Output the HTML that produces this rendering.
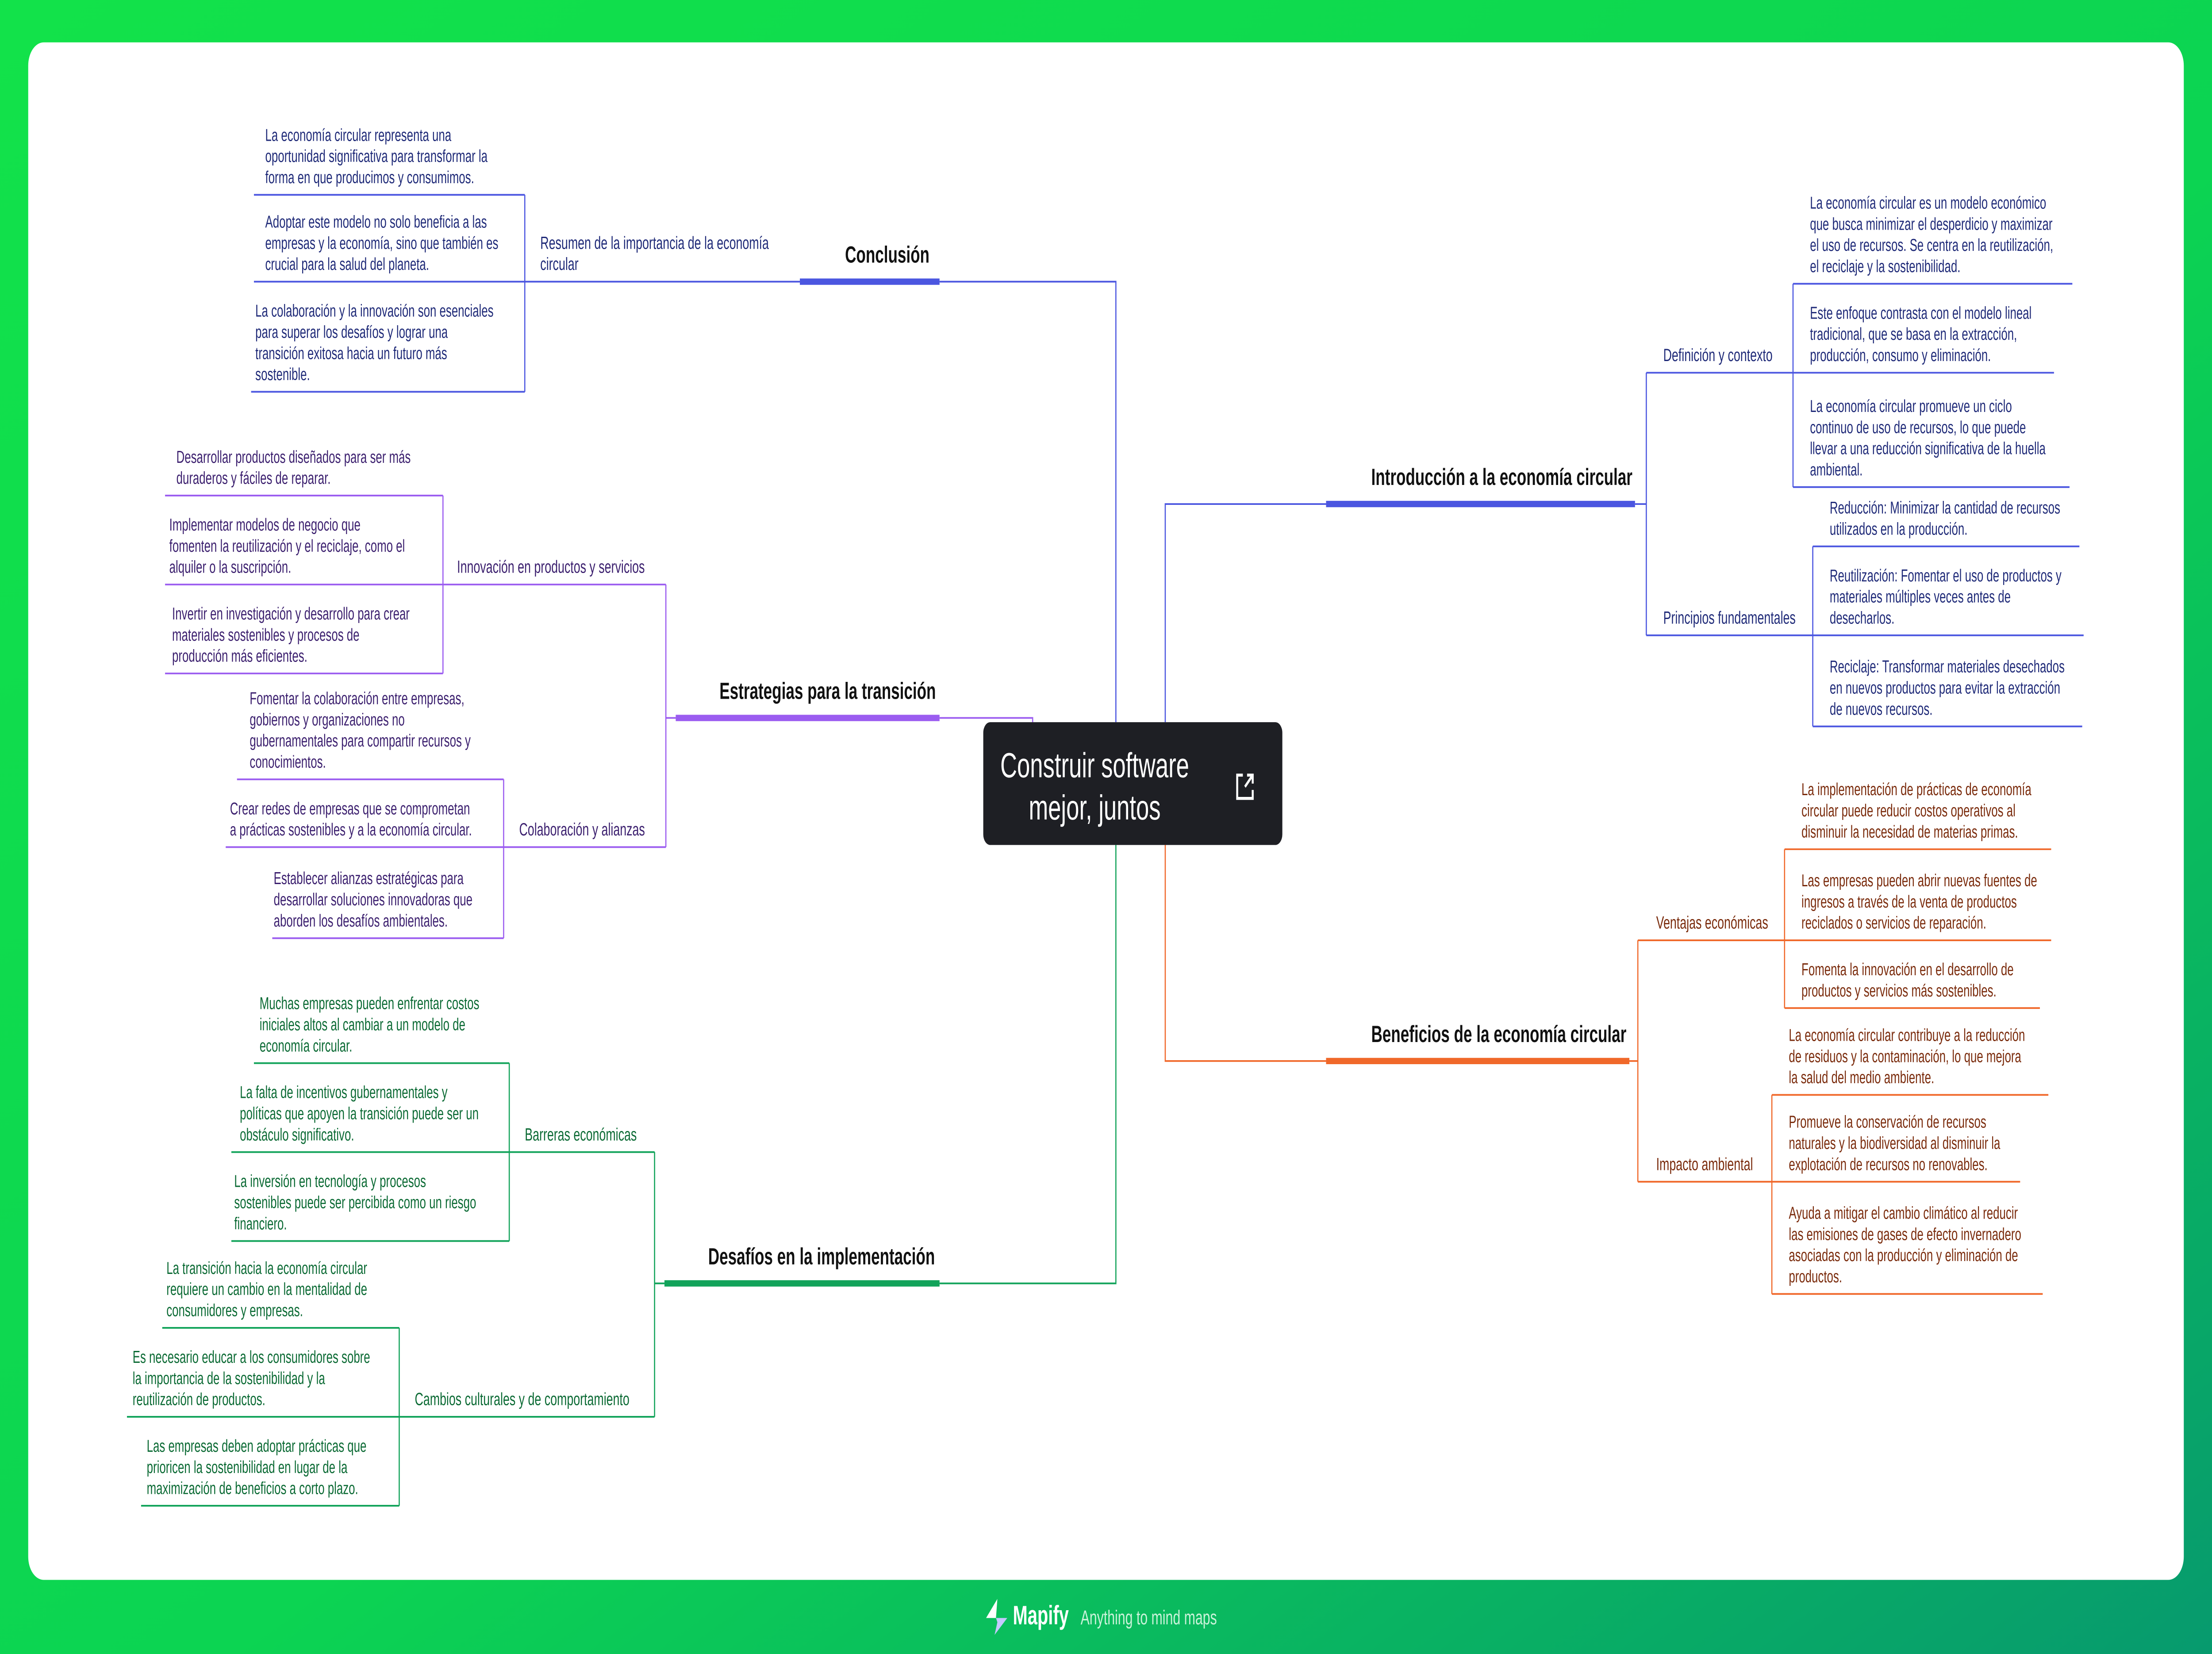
<!DOCTYPE html>
<html><head><meta charset="utf-8"><style>
html,body{margin:0;padding:0;width:100%;height:100%;overflow:hidden;background:#0cd452}
svg.main{position:absolute;left:0;top:0;width:100vw;height:100vh;display:block}
</style></head><body>
<svg class="main" viewBox="0 0 1568 781" preserveAspectRatio="none" xmlns="http://www.w3.org/2000/svg">
<defs><linearGradient id="bg" x1="0" y1="0" x2="1" y2="1"><stop offset="0" stop-color="#12e24a"/><stop offset="0.55" stop-color="#0cd452"/><stop offset="1" stop-color="#079a6e"/></linearGradient></defs>
<style>
text{font-family:"Liberation Sans",sans-serif;font-size:8.1px}
.s{font-size:8.4px}
.h{font-size:11px;font-weight:bold;fill:#111}
.b{fill:#1f2a78}.p{fill:#3b1f6e}.g{fill:#0b6a34}.o{fill:#7a2b0c}
</style>
<rect x="0" y="0" width="1568" height="781" fill="url(#bg)"/>
<rect x="20" y="20" width="1528" height="726" rx="11" fill="#fff"/>
<g fill="none">
<g stroke="#4b56e0" stroke-width="0.8">
<path d="M666 133H791V341"/>
<path d="M372 133H567M372 92V185M180 92H372M180 133H372M178 185H372"/>
<path d="M826 341V238H940"/>
<path d="M1159 238H1167M1167 176V300M1167 176H1271M1167 300H1285"/>
<path d="M1271 134V230M1271 134H1469M1271 176H1456M1271 230H1467"/>
<path d="M1285 258V343M1285 258H1474M1285 300H1477M1285 343H1476"/>
</g>
<g stroke="#9b5cf0" stroke-width="0.8">
<path d="M666 339H732V341"/>
<path d="M472 339H479M472 276V400M314 276H472M357 400H472"/>
<path d="M314 234V318M117 234H314M117 276H314M117 318H314"/>
<path d="M357 368V443M168 368H357M160 400H357M193 443H357"/>
</g>
<g stroke="#12a35a" stroke-width="0.8">
<path d="M666 606H791V399"/>
<path d="M464 606H471M464 544V669M361 544H464M283 669H464"/>
<path d="M361 502V586M180 502H361M164 544H361M164 586H361"/>
<path d="M283 627V711M115 627H283M90 669H283M100 711H283"/>
</g>
<g stroke="#f0682a" stroke-width="0.8">
<path d="M826 399V501H940"/>
<path d="M1155 501H1161M1161 444V558M1161 444H1265M1161 558H1256"/>
<path d="M1265 401V476M1265 401H1454M1265 444H1454M1265 476H1446"/>
<path d="M1256 517V611M1256 517H1452M1256 558H1432M1256 611H1448"/>
</g>
<g stroke-width="3">
<path d="M567 133H666" stroke="#4b56e0"/>
<path d="M940 238H1159" stroke="#4b56e0"/>
<path d="M479 339H666" stroke="#9b5cf0"/>
<path d="M471 606H666" stroke="#12a35a"/>
<path d="M940 501H1155" stroke="#f0682a"/>
</g>
</g>

<rect x="697" y="341" width="212" height="58" rx="5" fill="#1e1f24"/>
<text x="776" y="367" text-anchor="middle" fill="#fff" style="font-size:16.5px">Construir software</text>
<text x="776" y="387" text-anchor="middle" fill="#fff" style="font-size:16.5px">mejor, juntos</text>
<path d="M881 366H877V377H888V373M884 366H888V370M888 366L882.5 371.5" fill="none" stroke="#fff" stroke-width="1.4"/>

<text class="h" x="599" y="124">Conclusión</text>
<text class="h" x="510" y="330">Estrategias para la transición</text>
<text class="h" x="502" y="597">Desafíos en la implementación</text>
<text class="h" x="972" y="229">Introducción a la economía circular</text>
<text class="h" x="972" y="492">Beneficios de la economía circular</text>

<text class="s b" x="383" y="117.5">Resumen de la importancia de la economía<tspan x="383" dy="10">circular</tspan></text>
<text class="s p" x="324" y="270.5">Innovación en productos y servicios</text>
<text class="s p" x="368" y="394.5">Colaboración y alianzas</text>
<text class="s g" x="372" y="538.5">Barreras económicas</text>
<text class="s g" x="294" y="663.5">Cambios culturales y de comportamiento</text>
<text class="s b" x="1179" y="170.5">Definición y contexto</text>
<text class="s b" x="1179" y="294.5">Principios fundamentales</text>
<text class="s o" x="1174" y="438.5">Ventajas económicas</text>
<text class="s o" x="1174" y="552.5">Impacto ambiental</text>

<text class="b" x="188" y="66.5">La economía circular representa una<tspan x="188" dy="10">oportunidad significativa para transformar la</tspan><tspan x="188" dy="10">forma en que producimos y consumimos.</tspan></text>
<text class="b" x="188" y="107.5">Adoptar este modelo no solo beneficia a las<tspan x="188" dy="10">empresas y la economía, sino que también es</tspan><tspan x="188" dy="10">crucial para la salud del planeta.</tspan></text>
<text class="b" x="181" y="149.5">La colaboración y la innovación son esenciales<tspan x="181" dy="10">para superar los desafíos y lograr una</tspan><tspan x="181" dy="10">transición exitosa hacia un futuro más</tspan><tspan x="181" dy="10">sostenible.</tspan></text>

<text class="p" x="125" y="218.5">Desarrollar productos diseñados para ser más<tspan x="125" dy="10">duraderos y fáciles de reparar.</tspan></text>
<text class="p" x="120" y="250.5">Implementar modelos de negocio que<tspan x="120" dy="10">fomenten la reutilización y el reciclaje, como el</tspan><tspan x="120" dy="10">alquiler o la suscripción.</tspan></text>
<text class="p" x="122" y="292.5">Invertir en investigación y desarrollo para crear<tspan x="122" dy="10">materiales sostenibles y procesos de</tspan><tspan x="122" dy="10">producción más eficientes.</tspan></text>
<text class="p" x="177" y="332.5">Fomentar la colaboración entre empresas,<tspan x="177" dy="10">gobiernos y organizaciones no</tspan><tspan x="177" dy="10">gubernamentales para compartir recursos y</tspan><tspan x="177" dy="10">conocimientos.</tspan></text>
<text class="p" x="163" y="384.5">Crear redes de empresas que se comprometan<tspan x="163" dy="10">a prácticas sostenibles y a la economía circular.</tspan></text>
<text class="p" x="194" y="417.5">Establecer alianzas estratégicas para<tspan x="194" dy="10">desarrollar soluciones innovadoras que</tspan><tspan x="194" dy="10">aborden los desafíos ambientales.</tspan></text>

<text class="g" x="184" y="476.5">Muchas empresas pueden enfrentar costos<tspan x="184" dy="10">iniciales altos al cambiar a un modelo de</tspan><tspan x="184" dy="10">economía circular.</tspan></text>
<text class="g" x="170" y="518.5">La falta de incentivos gubernamentales y<tspan x="170" dy="10">políticas que apoyen la transición puede ser un</tspan><tspan x="170" dy="10">obstáculo significativo.</tspan></text>
<text class="g" x="166" y="560.5">La inversión en tecnología y procesos<tspan x="166" dy="10">sostenibles puede ser percibida como un riesgo</tspan><tspan x="166" dy="10">financiero.</tspan></text>
<text class="g" x="118" y="601.5">La transición hacia la economía circular<tspan x="118" dy="10">requiere un cambio en la mentalidad de</tspan><tspan x="118" dy="10">consumidores y empresas.</tspan></text>
<text class="g" x="94" y="643.5">Es necesario educar a los consumidores sobre<tspan x="94" dy="10">la importancia de la sostenibilidad y la</tspan><tspan x="94" dy="10">reutilización de productos.</tspan></text>
<text class="g" x="104" y="685.5">Las empresas deben adoptar prácticas que<tspan x="104" dy="10">prioricen la sostenibilidad en lugar de la</tspan><tspan x="104" dy="10">maximización de beneficios a corto plazo.</tspan></text>

<text class="b" x="1283" y="98.5">La economía circular es un modelo económico<tspan x="1283" dy="10">que busca minimizar el desperdicio y maximizar</tspan><tspan x="1283" dy="10">el uso de recursos. Se centra en la reutilización,</tspan><tspan x="1283" dy="10">el reciclaje y la sostenibilidad.</tspan></text>
<text class="b" x="1283" y="150.5">Este enfoque contrasta con el modelo lineal<tspan x="1283" dy="10">tradicional, que se basa en la extracción,</tspan><tspan x="1283" dy="10">producción, consumo y eliminación.</tspan></text>
<text class="b" x="1283" y="194.5">La economía circular promueve un ciclo<tspan x="1283" dy="10">continuo de uso de recursos, lo que puede</tspan><tspan x="1283" dy="10">llevar a una reducción significativa de la huella</tspan><tspan x="1283" dy="10">ambiental.</tspan></text>
<text class="b" x="1297" y="242.5">Reducción: Minimizar la cantidad de recursos<tspan x="1297" dy="10">utilizados en la producción.</tspan></text>
<text class="b" x="1297" y="274.5">Reutilización: Fomentar el uso de productos y<tspan x="1297" dy="10">materiales múltiples veces antes de</tspan><tspan x="1297" dy="10">desecharlos.</tspan></text>
<text class="b" x="1297" y="317.5">Reciclaje: Transformar materiales desechados<tspan x="1297" dy="10">en nuevos productos para evitar la extracción</tspan><tspan x="1297" dy="10">de nuevos recursos.</tspan></text>

<text class="o" x="1277" y="375.5">La implementación de prácticas de economía<tspan x="1277" dy="10">circular puede reducir costos operativos al</tspan><tspan x="1277" dy="10">disminuir la necesidad de materias primas.</tspan></text>
<text class="o" x="1277" y="418.5">Las empresas pueden abrir nuevas fuentes de<tspan x="1277" dy="10">ingresos a través de la venta de productos</tspan><tspan x="1277" dy="10">reciclados o servicios de reparación.</tspan></text>
<text class="o" x="1277" y="460.5">Fomenta la innovación en el desarrollo de<tspan x="1277" dy="10">productos y servicios más sostenibles.</tspan></text>
<text class="o" x="1268" y="491.5">La economía circular contribuye a la reducción<tspan x="1268" dy="10">de residuos y la contaminación, lo que mejora</tspan><tspan x="1268" dy="10">la salud del medio ambiente.</tspan></text>
<text class="o" x="1268" y="532.5">Promueve la conservación de recursos<tspan x="1268" dy="10">naturales y la biodiversidad al disminuir la</tspan><tspan x="1268" dy="10">explotación de recursos no renovables.</tspan></text>
<text class="o" x="1268" y="575.5">Ayuda a mitigar el cambio climático al reducir<tspan x="1268" dy="10">las emisiones de gases de efecto invernadero</tspan><tspan x="1268" dy="10">asociadas con la producción y eliminación de</tspan><tspan x="1268" dy="10">productos.</tspan></text>

<path d="M707 755L699 764H706Z" fill="#fff"/>
<path d="M706 764H714L705 772L707 766Z" fill="#c5c9ff"/>
<text x="718" y="767" fill="#fff" style="font-size:12.5px;font-weight:bold">Mapify</text>
<text x="766" y="767" fill="#c9f2d9" style="font-size:9.5px">Anything to mind maps</text>
</svg>
</body></html>
